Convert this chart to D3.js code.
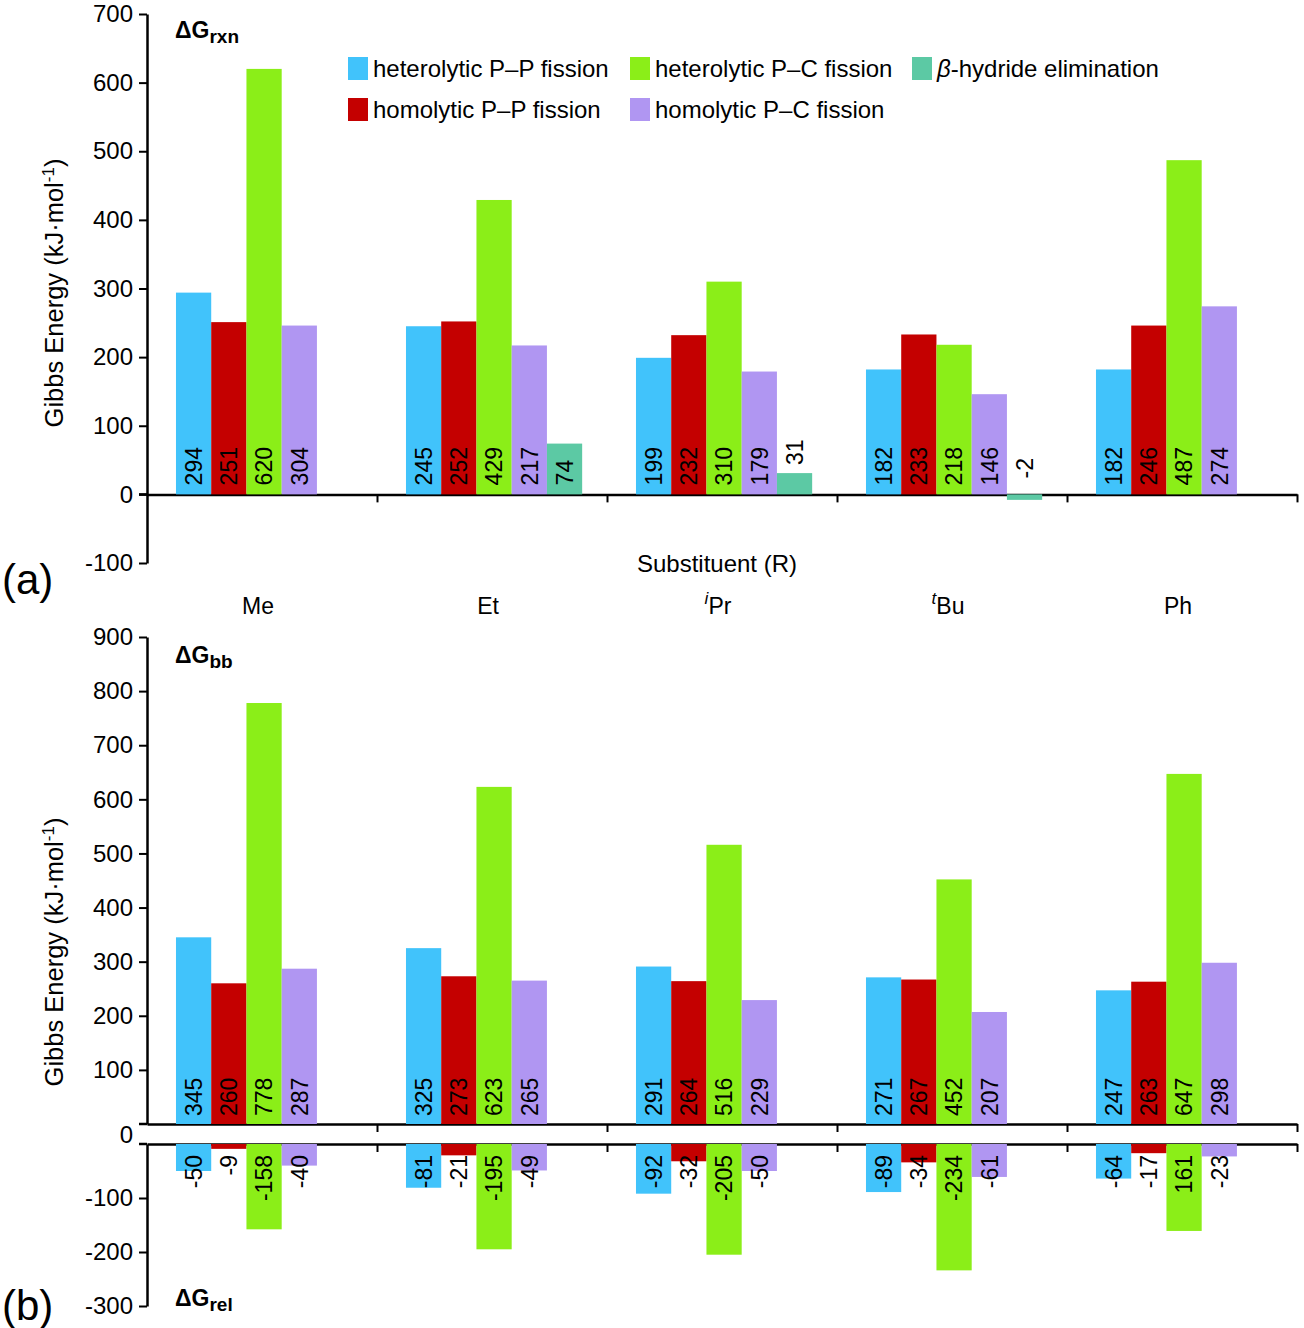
<!DOCTYPE html>
<html>
<head>
<meta charset="utf-8">
<script src="https://cdn.jsdelivr.net/npm/d3@7"></script>
<style>
  body { margin: 0; background: #fff; }
  text { font-family: "Liberation Sans", Arial, sans-serif; fill: #000; }
</style>
</head>
<body>
<svg id="chart" width="1304" height="1328"></svg>
<script>
// categories (substituent R)
const categories = ["Me", "Et", "iPr", "tBu", "Ph"]
const seriesKeys = ["hetPP", "homPP", "hetPC", "homPC", "beta"]
const seriesNames = ["heterolytic P\u2013P fission", "homolytic P\u2013P fission",
  "heterolytic P\u2013C fission", "homolytic P\u2013C fission", "-hydride elimination"]
const seriesColors = ["#41c3fb", "#c40000", "#8bee18", "#b096f2", "#5cc9a4"]

// (a) dG rxn
const rxnHetPP = [294, 245, 199, 182, 182]
const rxnHomPP = [251, 252, 232, 233, 246]
const rxnHetPC = [620, 429, 310, 218, 487]
const rxnHomPC = [246, 217, 179, 146, 274]
const rxnBeta = [null, 74, 31, -8, null]
const rxnHomPCLabels = ["304", "217", "179", "146", "274"]
const rxnBetaLabels = [null, "74", "31", "-2", null]

// (b) dG bb (upper part)
const bbHetPP = [345, 325, 291, 271, 247]
const bbHomPP = [260, 273, 264, 267, 263]
const bbHetPC = [778, 623, 516, 452, 647]
const bbHomPC = [287, 265, 229, 207, 298]

// (b) dG rel (lower part)
const relHetPP = [-50, -81, -92, -89, -64]
const relHomPP = [-9, -21, -32, -34, -17]
const relHetPC = [-158, -195, -205, -234, -161]
const relHomPC = [-40, -49, -50, -61, -23]
const relHetPCLabels = ["-158", "-195", "-205", "-234", "161"]

const ticksA = [-100, 0, 100, 200, 300, 400, 500, 600, 700]
const ticksB = [100, 200, 300, 400, 500, 600, 700, 800, 900]
const ticksC = [-300, -200, -100]

function rows(vals, labels) {
  // one record per category/series pair
  const out = []
  categories.forEach((c, i) => {
    seriesKeys.forEach((k, j) => {
      const v = vals[j] ? vals[j][i] : null
      if (v === null || v === undefined) return
      const lab = labels[j] ? labels[j][i] : String(v)
      out.push({ cat: c, key: k, value: v, label: lab, color: seriesColors[j] })
    })
  })
  return out
}

const dataA = rows([rxnHetPP, rxnHomPP, rxnHetPC, rxnHomPC, rxnBeta],
  [null, null, null, rxnHomPCLabels, rxnBetaLabels])
const dataB = rows([bbHetPP, bbHomPP, bbHetPC, bbHomPC], [])
const dataC = rows([relHetPP, relHomPP, relHetPC, relHomPC], [null, null, relHetPCLabels, null])

const svg = d3.select("#chart")
const FS = 24

const left = 147, right = 1297
var x0 = d3.scaleBand().domain(categories).range([left, right]).padding(0)
var bw = x0.bandwidth()
var x1 = d3.scaleBand().domain(seriesKeys).range([bw * 0.126, bw * 0.892])
var xb = d3.scaleLinear().domain([0, categories.length]).range([left, right])

var yA = d3.scaleLinear().domain([-100, 700]).range([563, 14])
var yB = d3.scaleLinear().domain([0, 900]).range([1124, 637])
var yC = d3.scaleLinear().domain([-300, 0]).range([1306, 1144])

function styleAxis(g) {
  g.select(".domain").attr("stroke-width", 2.5)
  g.selectAll(".tick line").attr("stroke-width", 2)
  g.selectAll(".tick text")
    .style("font-size", FS + "px")
    .style("font-family", '"Liberation Sans", Arial, sans-serif')
}

// y axes (hyphen minus like the original)
function yAxis(scale, ticks) {
  svg.append("g").attr("transform", "translate(" + left + ",0)")
    .call(d3.axisLeft(scale).tickValues(ticks).tickFormat(d => String(d))
      .tickSize(8).tickSizeOuter(0).tickPadding(6))
    .call(styleAxis)
}
yAxis(yA, ticksA)
yAxis(yB, ticksB)
yAxis(yC, ticksC)

// the shared 0 label of the broken axis
svg.append("text")
  .attr("x", left - 14).attr("y", (yB(0) + yC(0)) / 2 + 9)
  .attr("text-anchor", "end")
  .style("font-size", FS + "px")
  .text("0")

// horizontal baselines with category boundary ticks
function baseline(y) {
  svg.append("g").attr("transform", "translate(0," + y + ")")
    .call(d3.axisBottom(xb).tickValues(d3.range(1, categories.length + 1))
      .tickFormat("").tickSize(8).tickSizeOuter(0))
    .call(styleAxis)
  svg.append("line")
    .attr("x1", left - 8).attr("x2", left)
    .attr("y1", y).attr("y2", y)
    .attr("stroke", "#000").attr("stroke-width", 2.5)
}
baseline(yA(0))
baseline(yB(0))
baseline(yC(0))

// bars
function drawBars(data, y) {
  svg.append("g").selectAll("rect")
    .data(data)
    .enter()
    .append("rect")
      .attr("x", d => x0(d.cat) + x1(d.key))
      .attr("width", x1.bandwidth())
      .attr("y", d => Math.min(y(d.value), y(0)))
      .attr("height", d => Math.abs(y(d.value) - y(0)))
      .attr("fill", d => d.color)
}
drawBars(dataA, yA)
drawBars(dataB, yB)
drawBars(dataC, yC)

// value labels, rotated
function valueLabels(data, posFn, anchor) {
  svg.append("g").selectAll("text")
    .data(data)
    .enter()
    .append("text")
      .attr("transform", d => "translate(" + (x0(d.cat) + x1(d.key) + x1.bandwidth() / 2) + "," + posFn(d) + ") rotate(-90)")
      .attr("dy", "0.36em")
      .attr("text-anchor", anchor)
      .style("font-size", "23px")
      .text(d => d.label)
}
valueLabels(dataA, d => Math.abs(d.value) < 60 ? Math.min(yA(d.value), yA(0) - 8) - 8 : yA(0) - 9, "start")
valueLabels(dataB, d => yB(0) - 8, "start")
valueLabels(dataC, d => yC(0) + 11, "end")

// y axis titles
function yTitle(cy) {
  var t = svg.append("text")
    .attr("transform", "translate(63," + cy + ") rotate(-90)")
    .attr("text-anchor", "middle")
    .style("font-size", "25.5px")
  t.append("tspan").text("Gibbs Energy (kJ\u00b7mol")
  t.append("tspan").attr("dy", -9).style("font-size", "17px").text("-1")
  t.append("tspan").attr("dy", 9).text(")")
}
yTitle(293)
yTitle(952)

// panel quantity labels
function dG(x, y, sub) {
  var t = svg.append("text").attr("x", x).attr("y", y)
    .style("font-size", "23px").style("font-weight", "bold")
  t.append("tspan").text("\u0394G")
  t.append("tspan").attr("dy", 5).style("font-size", "19px").text(sub)
}
dG(175, 38, "rxn")
dG(175, 663, "bb")
dG(175, 1306, "rel")

// panel letters
svg.append("text").attr("x", 2).attr("y", 594).style("font-size", "42px").text("(a)")
svg.append("text").attr("x", 2).attr("y", 1320).style("font-size", "42px").text("(b)")

// x axis title and categories
svg.append("text")
  .attr("x", 717).attr("y", 572)
  .attr("text-anchor", "middle")
  .style("font-size", "24px")
  .text("Substituent (R)")

var catText = svg.append("g").selectAll("text")
  .data(categories)
  .enter()
  .append("text")
    .attr("x", d => x0(d) + bw / 2 - 4)
    .attr("y", 614)
    .attr("text-anchor", "middle")
    .style("font-size", "23px")
catText.each(function(d) {
  var t = d3.select(this)
  if (d === "iPr" || d === "tBu") {
    t.append("tspan").attr("dy", -10).style("font-size", "17px").style("font-style", "italic").text(d[0])
    t.append("tspan").attr("dy", 10).text(d.slice(1))
  } else {
    t.text(d)
  }
})

// legend
const legendPos = [[348, 57], [348, 98], [630, 57], [630, 98], [912, 57]]
var leg = svg.append("g").selectAll("g")
  .data(seriesKeys)
  .enter()
  .append("g")
    .attr("transform", (d, i) => "translate(" + legendPos[i][0] + "," + legendPos[i][1] + ")")
leg.append("rect")
  .attr("width", 20).attr("height", 23)
  .attr("fill", (d, i) => seriesColors[i])
leg.append("text")
  .attr("x", 25).attr("y", 20)
  .style("font-size", "24px")
  .each(function(d, i) {
    var t = d3.select(this)
    if (d === "beta") t.append("tspan").style("font-style", "italic").text("\u03b2")
    t.append("tspan").text(seriesNames[i])
  })
</script>
</body>
</html>
